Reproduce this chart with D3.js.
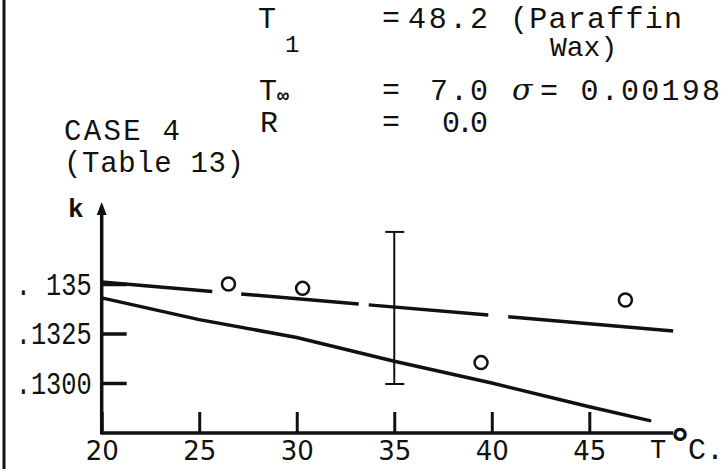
<!DOCTYPE html>
<html>
<head>
<meta charset="utf-8">
<script src="https://cdn.jsdelivr.net/npm/d3@7"></script>
<style>
  body { margin: 0; background: #fff; }
  svg { display: block; }
</style>
</head>
<body>
<script>
// canvas
var w = 727;
var h = 469;
var ink = "#111";

// data
var tTicks = [20, 25, 30, 35, 40, 45];
var tTickLabels = ["20", "25", "30", "35", "40", "45"];
var kTicks = [0.135, 0.1325, 0.1300];
var kTickLabels = [". 135", ".1325", ".1300"];

// measured points (open circles)
var pointT = [26.5, 30.3, 39.45, 46.85];
var pointK = [0.13500, 0.13478, 0.13103, 0.13419];

// solid curve
var solidT = [20, 25, 30, 35, 40, 45, 48.1];
var solidK = [0.1343, 0.1332, 0.1323, 0.1311, 0.1300, 0.1288, 0.1281];

// dashed curve
var dashedT = [20, 49.3];
var dashedK = [0.13510, 0.13263];

// error bar at T = 35
var errT = [35];
var errLow = [0.12995];
var errHigh = [0.13763];

// where the T axis stops (degree ring sits just after)
var tAxisEnd = 49.3;

// magic positions
var axisX = 101.7;
var axisY = 433;
var axisTop = 214;

var x = d3.scaleLinear().domain([20, 45]).range([axisX, 589.3]);
var y = d3.scaleLinear().domain([0.130, 0.135]).range([383, 284]);

var svg = d3.select("body").append("svg")
    .attr("width", w)
    .attr("height", h);

svg.append("rect").attr("width", w).attr("height", h).attr("fill", "#fff");

// page edge on the left
svg.append("line")
    .attr("x1", 4).attr("x2", 4)
    .attr("y1", 0).attr("y2", h)
    .attr("stroke", ink).attr("stroke-width", 3);

// ---- header text (typewritten)
var mono = "'Liberation Mono', 'DejaVu Sans Mono', monospace";
var head = svg.append("g")
    .attr("font-family", mono)
    .attr("font-size", 30)
    .attr("fill", ink);

function put(txt, px, py, opts) {
    var t = head.append("text").attr("x", px).attr("y", py).text(txt);
    if (opts) {
        for (var k in opts) t.attr(k, opts[k]);
    }
    return t;
}

put("T", 258, 28);
put("1", 285, 52, {"font-size": 24});
put("=", 382, 27);
put("48.2", 488, 28, {"text-anchor": "end", "textLength": 80});
put("(Paraffin", 510, 28, {"textLength": 172});
put("Wax)", 550, 56, {"font-size": 28});

put("T", 259, 100);
put("\u221E", 277, 102, {"font-size": 20, "font-weight": "bold"});
put("=", 382, 99);
put("7.0", 488, 100, {"text-anchor": "end", "textLength": 58});
put("\u03C3", 512, 100, {"font-family": "'DejaVu Serif', serif", "font-style": "italic"});
put("= 0.00198", 540, 100, {"textLength": 180});

put("R", 260, 132);
put("=", 382, 131);
put("0.0", 488, 132, {"text-anchor": "end", "textLength": 46});

put("CASE 4", 64, 140, {"font-size": 29, "textLength": 116});
put("(Table 13)", 64, 172, {"font-size": 29, "textLength": 180});
put("k", 68, 217, {"font-size": 26, "font-weight": "bold"});

// ---- axes
var xAxis = d3.axisBottom(x)
    .tickValues(tTicks)
    .tickFormat(function(d, i) { return tTickLabels[i]; })
    .tickSize(-21)
    .tickPadding(9);

var gx = svg.append("g")
    .attr("transform", "translate(0," + axisY + ")")
    .call(xAxis);
gx.select(".domain").remove();
gx.selectAll(".tick line").attr("stroke", ink).attr("stroke-width", 3);
gx.selectAll(".tick text")
    .attr("fill", ink)
    .attr("font-family", "'DejaVu Sans', sans-serif")
    .attr("font-size", 26);

var yAxis = d3.axisLeft(y)
    .tickValues(kTicks)
    .tickFormat(function(d, i) { return kTickLabels[i]; })
    .tickSize(-25)
    .tickPadding(10);

var gy = svg.append("g")
    .attr("transform", "translate(" + axisX + ",0)")
    .call(yAxis);
gy.select(".domain").remove();
gy.selectAll(".tick line").attr("stroke", ink).attr("stroke-width", 3.5);
gy.selectAll(".tick text")
    .attr("fill", ink)
    .attr("font-family", mono)
    .attr("font-size", 32)
    .attr("textLength", 76)
    .attr("lengthAdjust", "spacingAndGlyphs");

// axis lines
svg.append("line")
    .attr("x1", axisX).attr("x2", x(tAxisEnd))
    .attr("y1", axisY).attr("y2", axisY)
    .attr("stroke", ink).attr("stroke-width", 3.5);

svg.append("line")
    .attr("x1", axisX).attr("x2", axisX)
    .attr("y1", axisY + 1.5).attr("y2", axisTop)
    .attr("stroke", ink).attr("stroke-width", 3.5);

// arrow head on k axis
svg.append("path")
    .attr("d", "M" + axisX + "," + (axisTop - 12) +
               " L" + (axisX + 5) + "," + (axisTop + 1) +
               " L" + (axisX - 5) + "," + (axisTop + 1) + " Z")
    .attr("fill", ink);

// T°C. label at the end of the axis
var unit = svg.append("g").attr("fill", ink);
unit.append("text")
    .attr("x", 650).attr("y", 458)
    .attr("font-family", mono).attr("font-size", 27)
    .text("T");
unit.append("text")
    .attr("x", 680).attr("y", 458)
    .attr("text-anchor", "middle")
    .attr("font-family", "'DejaVu Sans', sans-serif")
    .attr("font-size", 41)
    .attr("font-weight", "bold")
    .text("\u00B0");
unit.append("text")
    .attr("x", 688).attr("y", 459)
    .attr("font-family", mono).attr("font-size", 30)
    .text("C.");

// ---- curves
var line = d3.line()
    .x(function(d) { return x(d[0]); })
    .y(function(d) { return y(d[1]); });

svg.append("path")
    .datum(d3.zip(solidT, solidK))
    .attr("d", line)
    .attr("fill", "none")
    .attr("stroke", ink)
    .attr("stroke-width", 3.5)
    .attr("stroke-linecap", "round");

svg.append("path")
    .datum(d3.zip(dashedT, dashedK))
    .attr("d", line)
    .attr("fill", "none")
    .attr("stroke", ink)
    .attr("stroke-width", 3.5)
    .attr("stroke-dasharray", "111,29,118,10,120,20,170");

// error bar
var eb = svg.selectAll("g.err")
    .data(d3.zip(errT, errLow, errHigh))
    .enter().append("g")
    .attr("class", "err")
    .attr("stroke", ink)
    .attr("stroke-width", 2);
eb.append("line")
    .attr("x1", function(d) { return x(d[0]); })
    .attr("x2", function(d) { return x(d[0]); })
    .attr("y1", function(d) { return y(d[1]); })
    .attr("y2", function(d) { return y(d[2]); });
eb.append("line")
    .attr("x1", function(d) { return x(d[0]) - 9; })
    .attr("x2", function(d) { return x(d[0]) + 10; })
    .attr("y1", function(d) { return y(d[1]); })
    .attr("y2", function(d) { return y(d[1]); });
eb.append("line")
    .attr("x1", function(d) { return x(d[0]) - 9; })
    .attr("x2", function(d) { return x(d[0]) + 10; })
    .attr("y1", function(d) { return y(d[2]); })
    .attr("y2", function(d) { return y(d[2]); });

// open circles
svg.selectAll("circle.pt")
    .data(d3.zip(pointT, pointK))
    .enter().append("circle")
    .attr("class", "pt")
    .attr("cx", function(d) { return x(d[0]); })
    .attr("cy", function(d) { return y(d[1]); })
    .attr("r", 6.5)
    .attr("fill", "none")
    .attr("stroke", ink)
    .attr("stroke-width", 2.5);
</script>
</body>
</html>
